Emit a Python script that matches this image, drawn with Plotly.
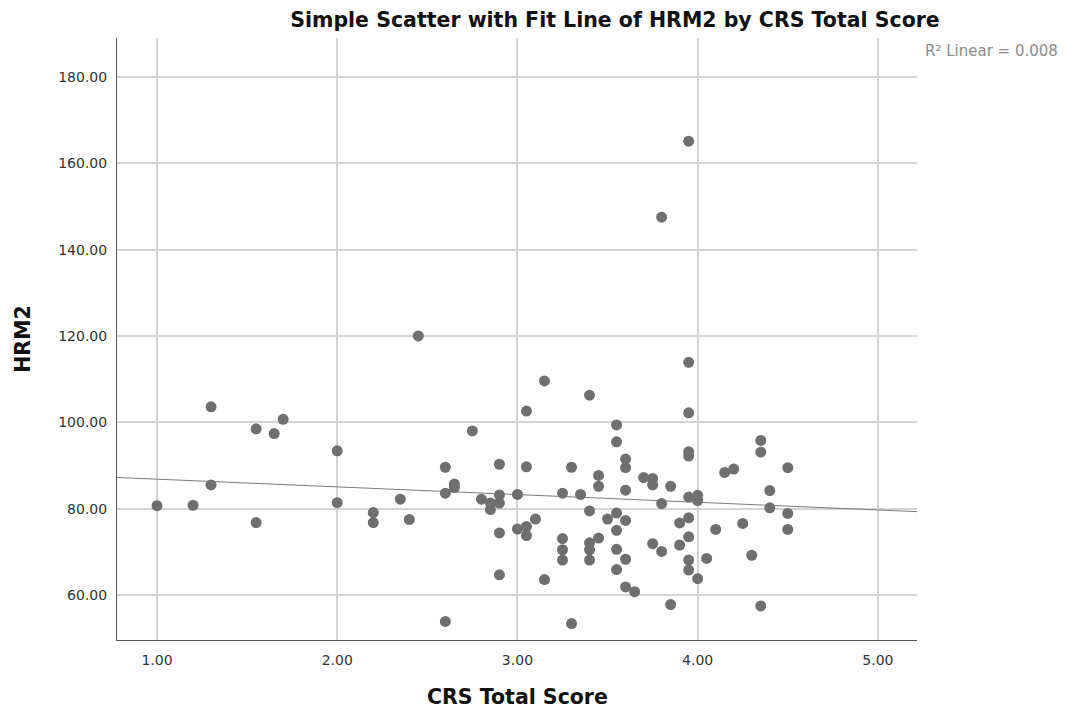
import numpy as np
import plotly.graph_objects as go

crs = [1.00, 1.20, 1.30, 1.30, 1.55, 1.55, 1.65, 1.70, 2.00, 2.00,
       2.20, 2.20, 2.35, 2.40, 2.45, 2.60, 2.60, 2.60, 2.65, 2.65,
       2.75, 2.80, 2.85, 2.85, 2.90, 2.90, 2.90, 2.90, 2.90, 3.00,
       3.00, 3.05, 3.05, 3.05, 3.05, 3.10, 3.15, 3.15, 3.25, 3.25,
       3.25, 3.25, 3.30, 3.30, 3.35, 3.40, 3.40, 3.40, 3.40, 3.40,
       3.45, 3.45, 3.45, 3.50, 3.55, 3.55, 3.55, 3.55, 3.55, 3.55,
       3.60, 3.60, 3.60, 3.60, 3.60, 3.60, 3.65, 3.70, 3.75, 3.75,
       3.75, 3.80, 3.80, 3.80, 3.85, 3.85, 3.90, 3.90, 3.95, 3.95,
       3.95, 3.95, 3.95, 3.95, 3.95, 3.95, 3.95, 3.95, 4.00, 4.00,
       4.00, 4.05, 4.10, 4.15, 4.20, 4.25, 4.30, 4.35, 4.35, 4.35,
       4.40, 4.40, 4.50, 4.50, 4.50]
hrm2 = [80.7, 80.8, 103.6, 85.5, 98.5, 76.8, 97.4, 100.7, 93.4, 81.4,
        79.1, 76.8, 82.2, 77.5, 120.0, 89.6, 83.6, 53.9, 85.7, 84.9,
        98.0, 82.2, 81.3, 79.8, 90.3, 83.2, 81.3, 74.4, 64.7, 83.3,
        75.3, 102.6, 89.7, 75.9, 73.8, 77.6, 109.6, 63.6, 83.6, 73.1,
        70.5, 68.1, 89.6, 53.4, 83.3, 106.3, 79.5, 72.1, 70.5, 68.1,
        87.7, 85.2, 73.2, 77.6, 99.4, 95.5, 79.0, 75.0, 70.6, 65.9,
        91.5, 89.5, 84.3, 77.3, 68.3, 61.9, 60.8, 87.2, 87.0, 85.5,
        71.9, 147.5, 81.2, 70.1, 85.2, 57.8, 76.7, 71.6, 165.1, 113.9,
        102.2, 93.2, 92.2, 82.7, 77.9, 73.5, 68.1, 65.8, 83.1, 81.9,
        63.8, 68.5, 75.2, 88.4, 89.2, 76.6, 69.2, 95.8, 93.1, 57.5,
        84.2, 80.2, 89.5, 78.9, 75.2]

x_ticks = [1.0, 2.0, 3.0, 4.0, 5.0]
y_ticks = [60, 80, 100, 120, 140, 160, 180]
x_range = [0.778, 5.217]
y_range = [49.6, 189.0]

slope, intercept = np.polyfit(crs, hrm2, 1)
fit_x = np.array(x_range)
fit_y = slope * fit_x + intercept

fig = go.Figure()
fig.add_trace(go.Scatter(x=fit_x, y=fit_y, mode="lines",
                         line=dict(color="#7a7a7a", width=1), hoverinfo="skip"))
fig.add_trace(go.Scatter(x=crs, y=hrm2, mode="markers",
                         marker=dict(size=11, color="#6f6f6f", line=dict(width=0))))

font_family = "DejaVu Sans, Verdana, sans-serif"
fig.update_layout(
    width=1067, height=713,
    margin=dict(l=117, r=150, t=38, b=73),
    paper_bgcolor="white", plot_bgcolor="white",
    showlegend=False,
    font=dict(family=font_family, size=14, color="#222222"),
    title=dict(text="<b>Simple Scatter with Fit Line of HRM2 by CRS Total Score</b>",
               x=0.6225, xref="paper", xanchor="center", y=0.972, yanchor="middle",
               font=dict(size=20.5, color="#111111")),
)
fig.update_xaxes(range=x_range, tickvals=x_ticks,
                 ticktext=[f"{v:.2f}" for v in x_ticks],
                 showgrid=True, gridcolor="#d4d4d4", gridwidth=1.5,
                 showline=True, linecolor="#555555", linewidth=1,
                 zeroline=False, ticks="", ticklabelstandoff=7, automargin=False,
                 tickfont=dict(size=14, color="#333333"))
fig.update_yaxes(range=y_range, tickvals=y_ticks,
                 ticktext=[f"{v:.2f}" for v in y_ticks],
                 showgrid=True, gridcolor="#d4d4d4", gridwidth=1.5,
                 showline=True, linecolor="#555555", linewidth=1,
                 zeroline=False, ticks="", ticklabelstandoff=6,
                 tickfont=dict(size=14, color="#333333"),
                 title=dict(text="<b>HRM2</b>", font=dict(size=20.5, color="#111111"), standoff=22))
fig.add_annotation(text="<b>CRS Total Score</b>", xref="paper", yref="paper",
                   x=0.5, y=-0.0947, xanchor="center", yanchor="middle", showarrow=False,
                   font=dict(size=20.5, color="#111111"))
fig.add_annotation(text="R² Linear = 0.008", xref="paper", yref="paper",
                   x=1.008, y=0.978, xanchor="left", yanchor="middle", showarrow=False,
                   font=dict(size=15, color="#8c8c8c"))

fig.write_html("out.html")
